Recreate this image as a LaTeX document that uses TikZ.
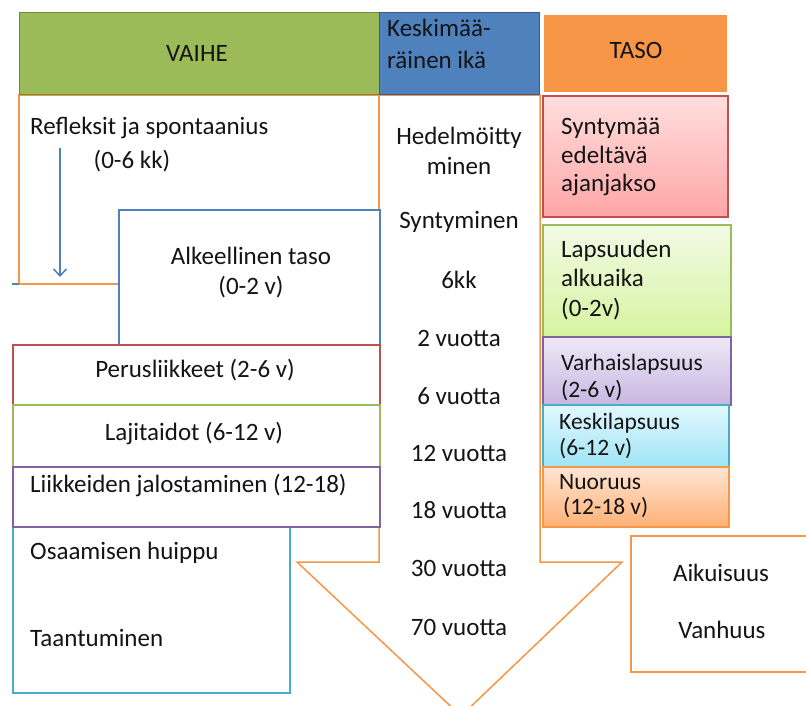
\documentclass[tikz,border=0pt]{standalone}
\usepackage{fontspec}
\setmainfont{Carlito}
\usetikzlibrary{arrows.meta,shadows}
\definecolor{cgreen}{HTML}{9BBB59}
\definecolor{cgreenD}{HTML}{71893F}
\definecolor{cblue}{HTML}{4F81BD}
\definecolor{cblueD}{HTML}{385D8A}
\definecolor{corange}{HTML}{F79646}
\definecolor{cred}{HTML}{C0504D}
\definecolor{cpurple}{HTML}{8064A2}
\definecolor{ccyan}{HTML}{4BACC6}
\definecolor{txtc}{HTML}{141414}
\begin{document}
\begin{tikzpicture}[x=1pt,y=-1pt,
  box/.style={draw, line width=1.5pt, inner sep=0pt, anchor=north west},
  gbox/.style={box, drop shadow={shadow xshift=1.5pt, shadow yshift=-1.5pt, opacity=0.25}},
  txt/.style={font=\fontsize{25}{30}\selectfont, inner sep=0pt, text=txtc},
  smalltxt/.style={inner sep=0pt, text=txtc},
  orl/.style={draw=corange, line width=1.5pt},
]
\useasboundingbox[fill=white] (0,0) rectangle (806,705);

% big orange arrow and top-left frame
\draw[orl] (379,95) -- (540,95) -- (540,562) -- (622,562) -- (461,716) -- (297,562) -- (379,562) -- cycle;
\draw[orl] (19,95) rectangle (379,284);

% headers
\node[box, draw=cgreenD, line width=1pt, fill=cgreen, minimum width=360pt, minimum height=82pt] (hvaihe) at (19,12) {};
\node[txt] (tvaihe) at (197,53) {VAIHE};
\node[box, draw=cblueD, line width=1pt, fill=cblue, minimum width=160pt, minimum height=82pt] (hika) at (379,12) {};
\node[txt, font=\fontsize{25}{32}\selectfont, anchor=west, align=left] (tika) at (387,44) {Keskimää-\\räinen ikä};
\node[box, draw=white, line width=1.5pt, fill=corange, minimum width=185pt, minimum height=79pt] (htaso) at (542,13) {};
\node[txt] (ttaso) at (636,50) {TASO};

% left column
\node[txt, anchor=west] (refl) at (30,128) {Refleksit ja spontaanius};
\node[txt] (refl2) at (132,161) {(0-6 kk)};
\coordinate (ars) at (60,148);
\coordinate (are) at (60,277);
\draw[cblue, line width=1.5pt, -{Straight Barb[length=7pt,width=13pt]}] (ars) -- (are);
\coordinate (tk1) at (12,284);
\coordinate (tk2) at (19,284);
\draw[cblue, line width=1.5pt] (tk1) -- (tk2);

\node[box, draw=cblue, fill=white, minimum width=261pt, minimum height=135pt] (alk) at (118,209) {};
\node[txt, align=center] (talk) at (251,273) {Alkeellinen taso\\(0-2 v)};
\node[box, draw=cred, fill=white, minimum width=367pt, minimum height=60pt] (per) at (12,344) {};
\node[txt] (tper) at (195,370) {Perusliikkeet (2-6 v)};
\node[box, draw=cgreen, fill=white, minimum width=367pt, minimum height=62pt] (laj) at (12,404) {};
\node[txt] (tlaj) at (194,433) {Lajitaidot (6-12 v)};
\node[box, draw=ccyan, fill=white, minimum width=277pt, minimum height=166pt] (osa) at (12,526) {};
\node[txt, anchor=west] (tosa1) at (30,553) {Osaamisen huippu};
\node[txt, anchor=west] (tosa2) at (30,638) {Taantuminen};
\node[box, draw=cpurple, fill=white, minimum width=367pt, minimum height=60pt] (lii) at (12,466) {};
\node[txt, anchor=west] (tlii) at (30,485) {Liikkeiden jalostaminen (12-18)};

% middle column
\node[txt, align=center] (m1) at (459,151) {Hedelmöitty\\minen};
\node[txt] (m2) at (459,222) {Syntyminen};
\node[txt] (m3) at (459,280) {6kk};
\node[txt] (m4) at (459,338) {2 vuotta};
\node[txt] (m5) at (459,396) {6 vuotta};
\node[txt] (m6) at (459,453) {12 vuotta};
\node[txt] (m7) at (459,510) {18 vuotta};
\node[txt] (m8) at (459,568) {30 vuotta};
\node[txt] (m9) at (459,627) {70 vuotta};

% right column
\node[gbox, draw=cred, top color=red!13!white, bottom color=red!35!white, minimum width=185pt, minimum height=121pt] (syn) at (542,95) {};
\node[txt, font=\fontsize{25}{28.5}\selectfont, anchor=west, align=left] (tsyn) at (561,157) {Syntymää\\edeltävä\\ajanjakso};
\node[gbox, draw=cgreen, top color={rgb,255:red,242;green,250;blue,230}, bottom color={rgb,255:red,214;green,244;blue,160}, minimum width=188pt, minimum height=112pt] (lap) at (542,224) {};
\node[txt, font=\fontsize{25}{29.5}\selectfont, anchor=west, align=left] (tlap) at (561,280) {Lapsuuden\\alkuaika\\(0-2v)};
\node[gbox, draw=cpurple, top color={rgb,255:red,238;green,233;blue,246}, bottom color={rgb,255:red,200;green,183;blue,226}, minimum width=188pt, minimum height=68pt] (var) at (542,336) {};
\node[smalltxt, font=\fontsize{23.5}{27}\selectfont, anchor=west, align=left] (tvar) at (561,377) {Varhaislapsuus\\(2-6 v)};
\node[gbox, draw=ccyan, top color={rgb,255:red,227;green,248;blue,254}, bottom color={rgb,255:red,158;green,228;blue,246}, minimum width=186pt, minimum height=62pt] (kes) at (542,404) {};
\node[smalltxt, font=\fontsize{23.5}{26}\selectfont, anchor=west, align=left] (tkes) at (559,436) {Keskilapsuus\\(6-12 v)};
\node[gbox, draw=corange, top color={rgb,255:red,255;green,229;blue,212}, bottom color={rgb,255:red,255;green,177;blue,118}, minimum width=186pt, minimum height=60pt] (nuo) at (542,466) {};
\node[smalltxt, font=\fontsize{23.5}{25}\selectfont, anchor=west, align=left] (tnuo) at (559,496) {Nuoruus\\\hspace*{4pt}(12-18 v)};

\node[box, draw=corange, fill=white, minimum width=190pt, minimum height=136pt] (aik) at (630,535) {};
\node[txt] (taik) at (721,573) {Aikuisuus};
\node[txt] (tvan) at (722,630) {Vanhuus};
\end{tikzpicture}
\end{document}
